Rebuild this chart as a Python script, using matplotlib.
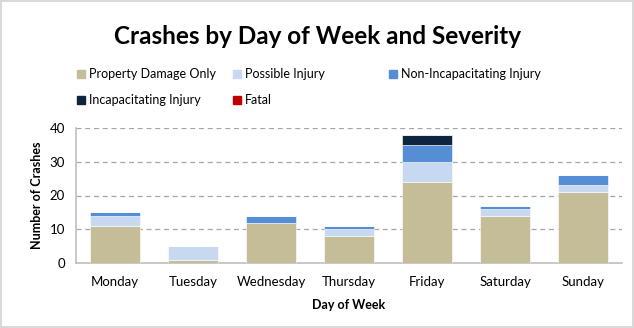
import matplotlib.pyplot as plt
from matplotlib.patches import Rectangle
import numpy as np

plt.rcParams['font.family'] = ['Lato', 'DejaVu Sans']

days = ["Monday", "Tuesday", "Wednesday", "Thursday", "Friday", "Saturday", "Sunday"]
property_damage = [11, 1, 12, 8, 24, 14, 21]
possible_injury = [3, 4, 0, 2, 6, 2, 2]
non_incapacitating = [1, 0, 2, 1, 5, 1, 3]
incapacitating = [0, 0, 0, 0, 3, 0, 0]
fatal = [0, 0, 0, 0, 0, 0, 0]

series = [
    ("Property Damage Only", property_damage, "#C4BD97"),
    ("Possible Injury", possible_injury, "#C6D9F1"),
    ("Non-Incapacitating Injury", non_incapacitating, "#558ED5"),
    ("Incapacitating Injury", incapacitating, "#0F243E"),
    ("Fatal", fatal, "#C00000"),
]

fig = plt.figure(figsize=(6.34, 3.28), dpi=100)
fig.patch.set_edgecolor("#D9D9D9")
fig.patch.set_linewidth(1.5)
ax = fig.add_axes([76 / 634, 1 - 263 / 328, 546 / 634, 135 / 328])

x = np.arange(len(days))
bottom = np.zeros(len(days))
for name, vals, color in series:
    ax.bar(x, vals, width=0.65, bottom=bottom, color=color,
           edgecolor="white", linewidth=0.4, zorder=3)
    bottom += np.array(vals)

ax.set_ylim(0, 40)
ax.set_xlim(-0.5, len(days) - 0.5)
ax.set_yticks([0, 10, 20, 30, 40])
ax.set_xticks(x)
ax.set_xticklabels(days)
ax.tick_params(length=0, labelsize=9.5, colors="#000000")
ax.tick_params(axis="x", pad=9)
ax.tick_params(axis="y", pad=8)
ax.yaxis.grid(True, linestyle=(0, (4, 3)), color="#A6A6A6", linewidth=0.9, zorder=0)
for s in ["top", "right"]:
    ax.spines[s].set_visible(False)
for s in ["left", "bottom"]:
    ax.spines[s].set_color("#BFBFBF")
    ax.spines[s].set_linewidth(1.2)

ax.set_xlabel("Day of Week", fontsize=9, fontweight="bold", labelpad=8)
ax.set_ylabel("Number of Crashes", fontsize=9, fontweight="bold", labelpad=5)

fig.text(0.5, 1 - 37 / 328, "Crashes by Day of Week and Severity",
         ha="center", va="center", fontsize=17.5, fontweight="bold")

# legend laid out in equal-width columns
col_x = [77, 233, 389]
row_y = [74, 100]
for i, (name, vals, color) in enumerate(series):
    cx = col_x[i % 3]
    cy = row_y[i // 3]
    fig.add_artist(Rectangle((cx / 634, 1 - (cy + 4) / 328), 8 / 634, 8 / 328,
                             transform=fig.transFigure, color=color))
    fig.text((cx + 12) / 634, 1 - cy / 328, name, ha="left", va="center", fontsize=9)

fig.savefig("out.png", dpi=100, edgecolor=fig.get_edgecolor())
